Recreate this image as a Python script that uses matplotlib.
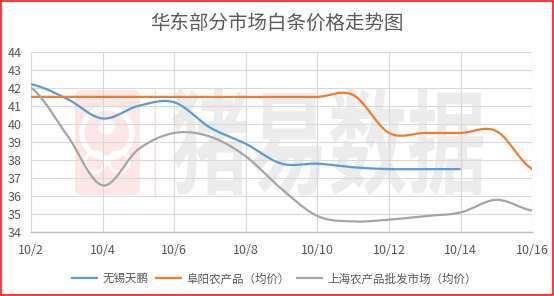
import numpy as np
import matplotlib
matplotlib.use('Agg')
import matplotlib.pyplot as plt
from matplotlib.patches import Rectangle, FancyBboxPatch, Circle, PathPatch
from matplotlib.textpath import TextPath
from matplotlib.font_manager import FontProperties
from matplotlib.transforms import Affine2D

plt.rcParams['font.family'] = ['Noto Sans CJK SC', 'DejaVu Sans']

# données (prix en yuan/kg)
dates = ['10/2', '10/3', '10/4', '10/5', '10/6', '10/7', '10/8', '10/9',
         '10/10', '10/11', '10/12', '10/13', '10/14', '10/15', '10/16']
wuxi = [42.2, 41.4, 40.3, 41.0, 41.2, 39.8, 38.9, 37.8,
        37.8, 37.6, 37.5, 37.5, 37.5, np.nan, np.nan]
fuyang = [41.5, 41.5, 41.5, 41.5, 41.5, 41.5, 41.5, 41.5,
          41.5, 41.6, 39.5, 39.5, 39.5, 39.6, 37.5]
shanghai = [42.0, 39.4, 36.6, 38.6, 39.5, 39.3, 38.2, 36.4,
            34.9, 34.6, 34.7, 34.9, 35.1, 35.8, 35.2]
series_names = ['无锡天鹏', '阜阳农产品（均价）', '上海农产品批发市场（均价）']
colors = ['#5b9bd5', '#ed7d31', '#a5a5a5']
title = '华东部分市场白条价格走势图'


def smooth(y, n=24):
    # courbe lissée type Excel (Catmull-Rom)
    y = np.asarray(y, float)
    ok = ~np.isnan(y)
    y = y[ok]
    x = np.arange(len(y), dtype=float)
    p = np.concatenate([[y[0]], y, [y[-1]]])
    xs, ys = [], []
    t = np.linspace(0, 1, n, endpoint=False)
    for i in range(len(y) - 1):
        p0, p1, p2, p3 = p[i], p[i + 1], p[i + 2], p[i + 3]
        v = 0.5 * (2 * p1 + (-p0 + p2) * t + (2 * p0 - 5 * p1 + 4 * p2 - p3) * t ** 2
                   + (-p0 + 3 * p1 - 3 * p2 + p3) * t ** 3)
        xs.append(x[i] + t)
        ys.append(v)
    xs.append([x[-1]])
    ys.append([y[-1]])
    return np.concatenate(xs), np.concatenate(ys)


fig = plt.figure(figsize=(5.54, 2.96), dpi=100, facecolor='white')

# fond : filigrane + cadre rouge (coordonnées en pixels)
bg = fig.add_axes([0, 0, 1, 1])
bg.set_xlim(0, 554)
bg.set_ylim(296, 0)
bg.axis('off')
bg.set_zorder(0)

bg.add_patch(FancyBboxPatch((75, 90), 65, 105, boxstyle='round,pad=0,rounding_size=7',
                            facecolor='#fce6e6', edgecolor='none'))
bg.add_patch(Circle((107, 133), 25, facecolor='none', edgecolor='white', lw=4))
bg.add_patch(Circle((107, 127), 8, facecolor='white', edgecolor='none'))
bg.add_patch(Circle((95, 162), 10, facecolor='none', edgecolor='white', lw=2.5))
bg.add_patch(Circle((119, 162), 10, facecolor='none', edgecolor='white', lw=2.5))
bg.plot([155, 155], [90, 195], color='#f6e0e0', lw=1)

fp = FontProperties(family='Noto Sans CJK SC', weight='bold')
tp = TextPath((0, 0), '猪易数据', size=1, prop=fp)
ext = tp.get_extents()
sx = (483 - 172) / ext.width
sy = (196 - 88) / ext.height
tr = Affine2D().translate(-ext.x0, -ext.y0).scale(sx, -sy).translate(172, 196)
bg.add_patch(PathPatch(tr.transform_path(tp), facecolor='#ececec', edgecolor='none'))

bg.add_patch(Rectangle((0.6, 0.6), 552.8, 294.8, fill=False, edgecolor='red', lw=1.1))

# graphique principal
ax = fig.add_axes([31 / 554, 1 - 232.3 / 296, 501.3 / 554, 180.6 / 296])
ax.set_zorder(1)
ax.set_facecolor('none')

for vals, c, name in zip([wuxi, fuyang, shanghai], colors, series_names):
    xs, ys = smooth(vals)
    ax.plot(xs, ys, color=c, lw=1.6, label=name, solid_capstyle='butt')

ax.set_xlim(0, 14)
ax.set_ylim(34, 44)
ax.set_yticks(range(34, 45))
ax.set_xticks(range(0, 15, 2))
ax.set_xticklabels(dates[::2])
ax.grid(True, color='#d9d9d9', lw=0.8)
ax.set_axisbelow(True)
for s in ['top', 'right', 'left']:
    ax.spines[s].set_visible(False)
ax.spines['bottom'].set_color('#bfbfbf')
ax.spines['bottom'].set_linewidth(1)
ax.tick_params(length=0, labelsize=9, colors='#595959')
ax.tick_params(axis='x', pad=8.5)
ax.tick_params(axis='y', pad=6.5)

fig.text(0.5, 1 - 23 / 296, title, ha='center', va='center',
         fontsize=14, color='#595959', fontweight='light')

ax.legend(loc='center', bbox_to_anchor=(274 / 554, 1 - 278.7 / 296),
          bbox_transform=fig.transFigure, ncol=3, frameon=False, fontsize=8.3,
          handlelength=2.35, handletextpad=0.4, columnspacing=0.5,
          labelcolor='#595959')

fig.savefig('out.png', dpi=100)
